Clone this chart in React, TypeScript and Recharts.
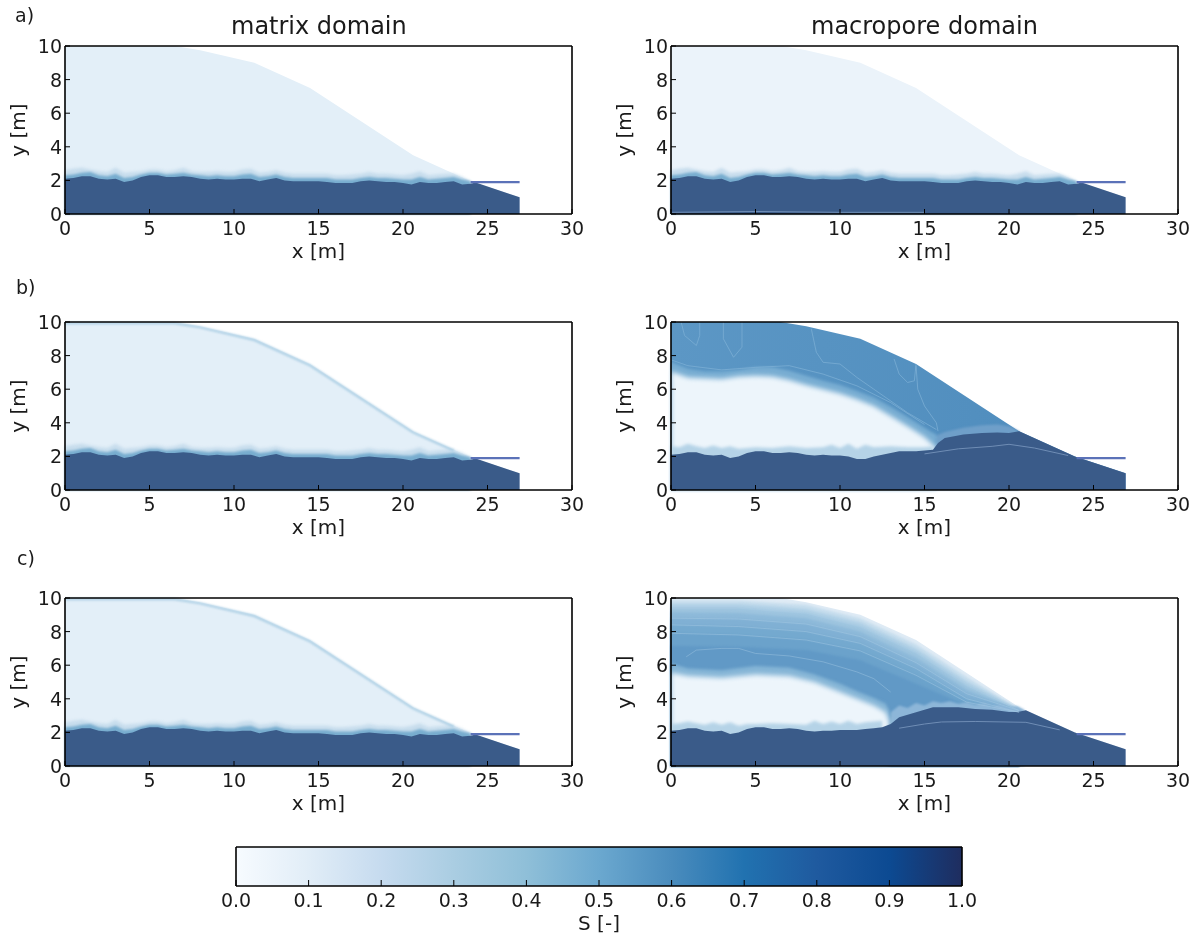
import React from "react";
import { ComposedChart, Area, Line, XAxis, YAxis } from "recharts";

const xTicks = [0, 5, 10, 15, 20, 25, 30];
const yTicks = [0, 2, 4, 6, 8, 10];
const cbTicks = [0, 0.1, 0.2, 0.3, 0.4, 0.5, 0.6, 0.7, 0.8, 0.9, 1];
const cbStops = [
  ["0%", "#f7fbff"], ["10%", "#e1edf7"], ["20%", "#c6dbef"], ["30%", "#aacde2"], ["40%", "#8fbfd8"],
  ["50%", "#6ba8cf"], ["60%", "#4a8cbd"], ["70%", "#2172b0"], ["80%", "#1f5a9f"], ["90%", "#0c4a92"], ["100%", "#1f2d5f"],
];

const surfaceX = [0, 6.5, 8, 11.2, 14.5, 20.6, 23.9, 26.9];
const surfaceY = [10, 10, 9.75, 9, 7.5, 3.5, 2, 1];

const gridX = [
  0, 0.5, 1, 1.5, 2, 2.5, 3, 3.5, 4, 4.5,
  5, 5.5, 6, 6.5, 7, 7.5, 8, 8.5, 9, 9.5,
  10, 10.5, 11, 11.5, 12, 12.5, 13, 13.5, 14, 14.5,
  15, 15.5, 16, 16.5, 17, 17.5, 18, 18.5, 19, 19.5,
  20, 20.5, 21, 21.5, 22, 22.5, 23, 23.5, 24, 24.3, 26.9,
];
const tableY = [
  2.1, 2.15, 2.25, 2.25, 2.1, 2.05, 2.1, 1.9, 2.0, 2.2,
  2.3, 2.3, 2.2, 2.2, 2.25, 2.2, 2.1, 2.05, 2.1, 2.05,
  2.05, 2.1, 2.1, 1.95, 2.05, 2.15, 2.0, 1.95, 1.95, 1.95,
  1.95, 1.9, 1.85, 1.85, 1.85, 1.95, 2.0, 1.95, 1.9, 1.9,
  1.85, 1.75, 1.9, 1.85, 1.85, 1.9, 1.95, 1.75, 1.8, 1.87, 1,
];
const innerY = [
  2.3, 2.35, 2.45, 2.5, 2.3, 2.25, 2.4, 2.15, 2.2, 2.35,
  2.45, 2.45, 2.35, 2.4, 2.45, 2.35, 2.3, 2.25, 2.3, 2.25,
  2.25, 2.35, 2.4, 2.2, 2.25, 2.35, 2.2, 2.15, 2.15, 2.15,
  2.15, 2.15, 2.05, 2.05, 2.05, 2.15, 2.2, 2.15, 2.15, 2.1,
  2.05, 2.05, 2.2, 2.05, 2.1, 2.15, 2.2, 2.05, 1.95,
];
const outerY = [
  2.6, 2.7, 2.75, 2.65, 2.55, 2.5, 2.75, 2.45, 2.5, 2.55,
  2.65, 2.65, 2.55, 2.6, 2.75, 2.55, 2.5, 2.5, 2.55, 2.5,
  2.5, 2.65, 2.7, 2.45, 2.5, 2.6, 2.45, 2.4, 2.4, 2.4,
  2.4, 2.4, 2.3, 2.3, 2.35, 2.4, 2.5, 2.4, 2.4, 2.35,
  2.3, 2.4, 2.55, 2.3, 2.35, 2.4, 2.4, 2.2, 1.95,
];
const edgeX = [0, 6.5, 8, 11.2, 14.5, 20.6, 23];
const edgeBY = [9.93, 9.93, 9.68, 8.93, 7.42, 3.43, 2.35];

const waterX = [24, 26.9];
const waterY = [1.9, 1.9];
const bottomLineX = [0, 5, 10, 15];
const bottomLineY = [0.1, 0.15, 0.1, 0.1];

// panel b, macropore
const bTableX = [
  0, 0.5, 1, 1.5, 2, 2.5, 3, 3.5, 4, 4.5, 5, 5.5, 6, 6.5, 7, 7.5, 8, 8.5, 9, 9.5, 10,
  10.5, 11, 11.5, 12, 12.5, 13, 13.5, 14, 14.5, 15, 15.5, 15.8, 16.2, 17.3, 18.4, 19.3, 20, 20.6, 23.9, 26.9,
];
const bTableY = [
  2.1, 2.15, 2.25, 2.25, 2.1, 2.05, 2.1, 1.9, 2.0, 2.2, 2.3, 2.3, 2.2, 2.2, 2.25, 2.2, 2.1, 2.05, 2.1, 2.05, 2.05,
  2.0, 1.85, 1.85, 2.0, 2.1, 2.2, 2.3, 2.3, 2.3, 2.35, 2.4, 2.8, 3.1, 3.3, 3.4, 3.42, 3.4, 3.5, 2, 1,
];
const bHaloX = [0, 0.5, 1, 1.5, 2, 2.5, 3, 3.5, 4, 4.5, 5, 6, 7, 8, 9, 9.5, 10, 10.5, 11, 11.5, 12, 13, 14, 15, 15.5];
const bHaloY = [2.6, 2.55, 2.75, 2.6, 2.5, 2.65, 2.5, 2.6, 2.45, 2.5, 2.55, 2.5, 2.6, 2.5, 2.55, 2.7, 2.5, 2.75, 2.45, 2.7, 2.55, 2.6, 2.55, 2.55, 2.6];
const bBlobX = [0, 1, 2, 3, 4, 5, 6, 7, 8, 9, 10, 11, 12, 13, 14, 15, 15.5, 15.7];
const bBlobY = [7.05, 6.7, 6.65, 6.6, 6.75, 6.8, 6.75, 6.55, 6.25, 6, 5.75, 5.4, 5, 4.4, 3.8, 3.15, 2.7, 2.4];
const bBandY = [7.6, 7.2, 7.05, 7.05, 7.15, 7.3, 7.3, 7.1, 6.8, 6.5, 6.25, 5.9, 5.5, 4.95, 4.35, 3.7, 3.4, 3.3];
const bMoundHaloX = [15.6, 16.2, 17.3, 18.4, 19.3, 20, 20.6];
const bMoundHaloY = [3.2, 3.45, 3.7, 3.85, 3.9, 3.8, 3.5];
const bInnerX = [15, 17, 19, 20, 21.5, 23.5];
const bInnerY = [2.15, 2.45, 2.6, 2.72, 2.5, 2.05];
const bC1X = [0.6, 0.8, 1.5, 1.7, 1.7];
const bC1Y = [10, 9.2, 8.6, 9.2, 10];
const bC2X = [3.1, 3.1, 3.7, 4.2, 4.2];
const bC2Y = [10, 9, 7.9, 8.5, 10];
const bC3X = [8.3, 8.6, 9, 10, 11, 12, 14, 15.7];
const bC3Y = [9.6, 8.2, 7.6, 7.5, 6.7, 6, 4.6, 3.6];
const bC4X = [13.2, 13.5, 14, 14.4, 14.5];
const bC4Y = [7.8, 6.9, 6.4, 6.5, 7.5];
const bC5X = [14.5, 14.6, 15, 15.7, 15.8];
const bC5Y = [7.4, 6, 5, 4, 3.5];
const bC6X = [0, 1, 3, 5, 7, 9, 11, 13, 15];
const bC6Y = [7.75, 7.4, 7.15, 7.3, 7.4, 6.9, 6.2, 5.2, 3.9];

// panel c, macropore
const cX = [0, 4, 8, 11.2, 14.5, 17.5, 20.6];
const cL1 = [9.85, 9.85, 9.6, 8.8, 7.25, 5.3, 3.4];
const cL2 = [9.65, 9.65, 9.35, 8.55, 7.0, 5.05, 3.4];
const cL3 = [9.4, 9.4, 9.1, 8.3, 6.75, 4.8, 3.3];
const cL4 = [9.15, 9.1, 8.8, 8.0, 6.45, 4.55, 3.3];
const cL5 = [8.8, 8.75, 8.45, 7.7, 6.15, 4.3, 3.3];
const cL6 = [8.4, 8.3, 8.0, 7.3, 5.8, 4.0, 3.2];
const cL7 = [7.9, 7.8, 7.5, 6.85, 5.4, 3.8, 3.2];
const cL8 = [7.15, 7.1, 6.9, 6.3, 4.9, 3.6, 3.2];
const cCoreX = [0.9, 1.5, 3, 4, 5, 7, 9, 11, 12, 13];
const cCoreY = [6.5, 6.9, 7.0, 7.0, 6.7, 6.55, 6.2, 5.6, 5.2, 4.4];
const cBlobX = [0, 1, 3, 5, 7, 8.5, 10, 11, 12, 12.7, 12.9];
const cBlobY = [5.55, 5.35, 5.25, 5.45, 5.35, 5, 4.4, 4, 3.6, 3.2, 2.7];
const cBandY = [6.1, 5.8, 5.7, 5.95, 5.85, 5.45, 4.9, 4.45, 4.05, 3.7, 3.3];
const cTableX = [
  0, 0.5, 1, 1.5, 2, 2.5, 3, 3.5, 4, 4.5, 5, 5.5, 6, 6.5, 7, 7.5, 8, 8.5, 9, 9.5, 10, 10.5, 11, 11.5, 12, 12.5,
  13, 13.5, 14.5, 15.5, 17, 18, 19, 20, 20.5, 21, 23.9, 26.9,
];
const cTableY = [
  2.1, 2.15, 2.25, 2.25, 2.1, 2.05, 2.1, 1.9, 2.0, 2.2, 2.3, 2.3, 2.2, 2.2, 2.25, 2.2, 2.1, 2.05, 2.1, 2.1, 2.15, 2.15, 2.15, 2.2, 2.25, 2.3,
  2.5, 2.9, 3.2, 3.5, 3.5, 3.4, 3.35, 3.22, 3.22, 3.32, 2, 1,
];
const cHaloX = [0, 0.5, 1, 1.5, 2, 2.5, 3, 3.5, 4, 4.5, 5, 6, 7, 8, 8.5, 9, 9.5, 10, 10.5, 11, 11.5, 12, 12.5];
const cHaloY = [2.5, 2.55, 2.65, 2.55, 2.45, 2.6, 2.45, 2.6, 2.4, 2.5, 2.5, 2.55, 2.5, 2.45, 2.7, 2.5, 2.65, 2.5, 2.7, 2.5, 2.6, 2.65, 2.7];
const cMoundHaloX = [13, 13.5, 14, 14.5, 15, 15.5, 16, 16.5, 17, 17.5, 18, 18.5, 19, 19.5, 20, 20.5, 20.9];
const cMoundHaloY = [3.2, 3.6, 3.45, 3.75, 3.6, 3.85, 3.75, 3.85, 3.7, 3.8, 3.65, 3.75, 3.55, 3.7, 3.5, 3.55, 3.35];
const cInnerX = [13.5, 15, 16, 18, 21, 23];
const cInnerY = [2.25, 2.5, 2.62, 2.65, 2.6, 2.15];

const pts = (xs: number[], ys: number[]) =>
  ys.map((y, i) => ({ x: xs[i], y }));

type Layer = { xs: number[]; ys: number[]; fill: string; soft?: string };
type Contour = { xs: number[]; ys: number[]; stroke: string; width?: number; opacity?: number; soft?: string };

const matrixLayers = (top: string): Layer[] => [
  { xs: surfaceX, ys: surfaceY, fill: top },
  { xs: gridX, ys: outerY, fill: "#c6dcec", soft: "soft2" },
  { xs: gridX, ys: innerY, fill: "#78adcf", soft: "soft1" },
  { xs: gridX, ys: tableY, fill: "#3a5b89" },
];

const panelAL = matrixLayers("#e3eff8");
const panelAR = matrixLayers("#ebf3fa");
const panelBL = matrixLayers("#e3eff8");
const panelCL = matrixLayers("#e3eff8");
const panelBR: Layer[] = [
  { xs: surfaceX, ys: surfaceY, fill: "url(#bBase)" },
  { xs: bMoundHaloX, ys: bMoundHaloY, fill: "#6f9fc9", soft: "soft1" },
  { xs: bBlobX, ys: bBandY, fill: "#78add2", soft: "soft2" },
  { xs: bBlobX, ys: bBlobY, fill: "#edf5fb", soft: "soft3" },
  { xs: bHaloX, ys: bHaloY, fill: "#b5d3e7", soft: "soft2" },
  { xs: bTableX, ys: bTableY, fill: "#3a5b89" },
];
const panelCR: Layer[] = [
  { xs: surfaceX, ys: surfaceY, fill: "#dfebf5" },
  { xs: cX, ys: cL1, fill: "#c6dded", soft: "soft1" },
  { xs: cX, ys: cL2, fill: "#b0d0e6", soft: "soft1" },
  { xs: cX, ys: cL3, fill: "#9dc4df", soft: "soft1" },
  { xs: cX, ys: cL4, fill: "#8db9d9", soft: "soft1" },
  { xs: cX, ys: cL5, fill: "#80b0d4", soft: "soft1" },
  { xs: cX, ys: cL6, fill: "#74a9cf", soft: "soft1" },
  { xs: cX, ys: cL7, fill: "#6ba2cb", soft: "soft1" },
  { xs: cX, ys: cL8, fill: "#6199c6", soft: "soft1" },
  { xs: cMoundHaloX, ys: cMoundHaloY, fill: "#8db6d8", soft: "soft1" },
  { xs: cBlobX, ys: cBandY, fill: "#85b5d6", soft: "soft2" },
  { xs: cBlobX, ys: cBlobY, fill: "#edf5fb", soft: "soft3" },
  { xs: cHaloX, ys: cHaloY, fill: "#b5d3e7", soft: "soft2" },
  { xs: cTableX, ys: cTableY, fill: "#3a5b89" },
];

const waterLine: Contour = { xs: waterX, ys: waterY, stroke: "#5b72b8", width: 2.2 };
const edgeLine: Contour = { xs: edgeX, ys: edgeBY, stroke: "#a6cbe2", width: 2, soft: "soft1" };
const pale = "#7fb0d6";
const glow = "#a9cde6";
const contoursBR: Contour[] = [
  { xs: bC1X, ys: bC1Y, stroke: pale, opacity: 0.7 },
  { xs: bC2X, ys: bC2Y, stroke: pale, opacity: 0.7 },
  { xs: bC3X, ys: bC3Y, stroke: pale, opacity: 0.7 },
  { xs: bC4X, ys: bC4Y, stroke: pale, opacity: 0.7 },
  { xs: bC5X, ys: bC5Y, stroke: pale, opacity: 0.7 },
  { xs: bC6X, ys: bC6Y, stroke: pale, opacity: 0.7 },
  { xs: bInnerX, ys: bInnerY, stroke: "#6f8db5" },
  waterLine,
];
const contoursCR: Contour[] = [
  { xs: cX, ys: cL3, stroke: glow, opacity: 0.4 },
  { xs: cX, ys: cL5, stroke: glow, opacity: 0.4 },
  { xs: cX, ys: cL6, stroke: glow, opacity: 0.4 },
  { xs: cX, ys: cL7, stroke: glow, opacity: 0.4 },
  { xs: cCoreX, ys: cCoreY, stroke: glow, opacity: 0.4 },
  { xs: cInnerX, ys: cInnerY, stroke: "#6f8db5" },
  waterLine,
];
const contoursAR: Contour[] = [
  { xs: bottomLineX, ys: bottomLineY, stroke: "#6f8db5" },
  waterLine,
];

const FONT = "'DejaVu Sans', sans-serif";
const INK = "#1a1a1a";
const TICK_FONT = 19;
const LABEL_FONT = 20;

const bottomTick = (size: number, fmt: (v: number) => string) => (p: any) => (
  <g>
    <line x1={p.x} x2={p.x} y1={p.y} y2={p.y - size} stroke="#000" strokeWidth={1} />
    <text x={p.x} y={p.y + 21} textAnchor="middle" fontSize={TICK_FONT} fontFamily={FONT} fill={INK}>
      {fmt(p.payload.value)}
    </text>
  </g>
);
const topTick = (size: number) => (p: any) => (
  <line x1={p.x} x2={p.x} y1={p.y} y2={p.y + size} stroke="#000" strokeWidth={1} />
);
const leftTick = (p: any) => (
  <g>
    <line x1={p.x} x2={p.x + 5} y1={p.y} y2={p.y} stroke="#000" strokeWidth={1} />
    <text x={p.x - 3} y={p.y + 7} textAnchor="end" fontSize={TICK_FONT} fontFamily={FONT} fill={INK}>
      {p.payload.value}
    </text>
  </g>
);
const rightTick = (p: any) => (
  <line x1={p.x} x2={p.x - 5} y1={p.y} y2={p.y} stroke="#000" strokeWidth={1} />
);

const axisLine = { stroke: "#000", strokeWidth: 1.6 };

function Panel({ left, top, id, layers, contours }: { left: number; top: number; id: string; layers: Layer[]; contours: Contour[] }) {
  return (
    <div style={{ position: "absolute", left, top }}>
      <ComposedChart width={590} height={236} margin={{ top: 9, right: 17, bottom: 12, left: 0 }}>
        <defs>
          <linearGradient id={`bBase`} x1="0" y1="0" x2="1" y2="0">
            <stop offset="0%" stopColor="#5c97c5" />
            <stop offset="100%" stopColor="#4d8bbc" />
          </linearGradient>
        </defs>
        <XAxis
          type="number" dataKey="x" domain={[0, 30]} ticks={xTicks} interval={0} height={46} allowDataOverflow
          tickSize={0} tickMargin={0} tickLine={false} axisLine={axisLine} tick={bottomTick(5, String)}
          label={{ value: "x [m]", position: "insideBottom", offset: 2, fontSize: LABEL_FONT, fontFamily: FONT, fill: INK }}
        />
        <XAxis
          xAxisId="top" orientation="top" type="number" dataKey="x" domain={[0, 30]} ticks={xTicks} interval={0} height={1}
          tickSize={0} tickMargin={0} tickLine={false} axisLine={axisLine} tick={topTick(5)}
        />
        <YAxis
          type="number" domain={[0, 10]} ticks={yTicks} interval={0} width={65} allowDataOverflow
          tickSize={0} tickMargin={0} tickLine={false} axisLine={axisLine} tick={leftTick}
          label={{ value: "y [m]", angle: -90, position: "insideLeft", offset: 18, fontSize: LABEL_FONT, fontFamily: FONT, fill: INK, style: { textAnchor: "middle" } }}
        />
        <YAxis
          yAxisId="right" orientation="right" type="number" domain={[0, 10]} ticks={yTicks} interval={0} width={1}
          tickSize={0} tickMargin={0} tickLine={false} axisLine={axisLine} tick={rightTick}
        />
        {layers.map((l, i) => (
          <Area
            key={`${id}-a${i}`} data={pts(l.xs, l.ys)} dataKey="y" type="linear" fill={l.fill} fillOpacity={1}
            stroke="none" className={l.soft} isAnimationActive={false} dot={false} activeDot={false}
          />
        ))}
        {contours.map((c, i) => (
          <Line
            key={`${id}-l${i}`} data={pts(c.xs, c.ys)} dataKey="y" type="linear" stroke={c.stroke}
            strokeWidth={c.width ?? 1} strokeOpacity={c.opacity ?? 1} className={c.soft}
            dot={false} activeDot={false} isAnimationActive={false} legendType="none"
          />
        ))}
      </ComposedChart>
    </div>
  );
}

function ColorBar() {
  return (
    <div style={{ position: "absolute", left: 0, top: 837 }}>
      <ComposedChart width={980} height={96} margin={{ top: 9, right: 17, bottom: 2, left: 235 }}>
        <defs>
          <linearGradient id="cbGrad" x1="0" y1="0" x2="1" y2="0">
            {cbStops.map(([o, c]) => (
              <stop key={o} offset={o} stopColor={c} />
            ))}
          </linearGradient>
        </defs>
        <XAxis
          type="number" dataKey="x" domain={[0, 1]} ticks={cbTicks} interval={0} height={45}
          tickSize={0} tickMargin={0} tickLine={false} axisLine={axisLine} tick={bottomTick(6, (v) => v.toFixed(1))}
          label={{ value: "S [-]", position: "insideBottom", offset: 1, fontSize: LABEL_FONT, fontFamily: FONT, fill: INK }}
        />
        <XAxis
          xAxisId="top" orientation="top" type="number" dataKey="x" domain={[0, 1]} ticks={cbTicks} interval={0} height={1}
          tickSize={0} tickMargin={0} tickLine={false} axisLine={axisLine} tick={topTick(6)}
        />
        <YAxis type="number" domain={[0, 1]} ticks={[]} width={1} tickLine={false} axisLine={axisLine} tick={false} />
        <YAxis yAxisId="right" orientation="right" type="number" domain={[0, 1]} ticks={[]} width={1} tickLine={false} axisLine={axisLine} tick={false} />
        <Area
          data={[{ x: 0, y: 1 }, { x: 1, y: 1 }]} dataKey="y" type="linear" fill="url(#cbGrad)" fillOpacity={1}
          stroke="none" isAnimationActive={false} dot={false} activeDot={false}
        />
      </ComposedChart>
    </div>
  );
}

const textStyle = (left: number, top: number, fontSize: number): React.CSSProperties => ({
  position: "absolute", left, top, fontSize, fontFamily: FONT, color: INK, lineHeight: 1, whiteSpace: "nowrap",
});

export default function App() {
  return (
    <div style={{ position: "absolute", left: 0, top: 0, width: 1198, height: 933, background: "#fff", overflow: "hidden", filter: "blur(0.4px)" }}>
      <style>{`.soft1{filter:blur(0.8px)} .soft2{filter:blur(1.6px)} .soft3{filter:blur(2.6px)}`}</style>
      <div style={textStyle(15, 6, 19)}>a)</div>
      <div style={textStyle(16, 278, 19)}>b)</div>
      <div style={textStyle(17, 549, 19)}>c)</div>
      <div style={textStyle(231, 14, 24)}>matrix domain</div>
      <div style={textStyle(811, 14, 24)}>macropore domain</div>
      <Panel left={0} top={36} id="al" layers={panelAL} contours={[waterLine]} />
      <Panel left={606} top={36} id="ar" layers={panelAR} contours={contoursAR} />
      <Panel left={0} top={312} id="bl" layers={panelBL} contours={[edgeLine, waterLine]} />
      <Panel left={606} top={312} id="br" layers={panelBR} contours={contoursBR} />
      <Panel left={0} top={588} id="cl" layers={panelCL} contours={[edgeLine, waterLine]} />
      <Panel left={606} top={588} id="cr" layers={panelCR} contours={contoursCR} />
      <ColorBar />
    </div>
  );
}
